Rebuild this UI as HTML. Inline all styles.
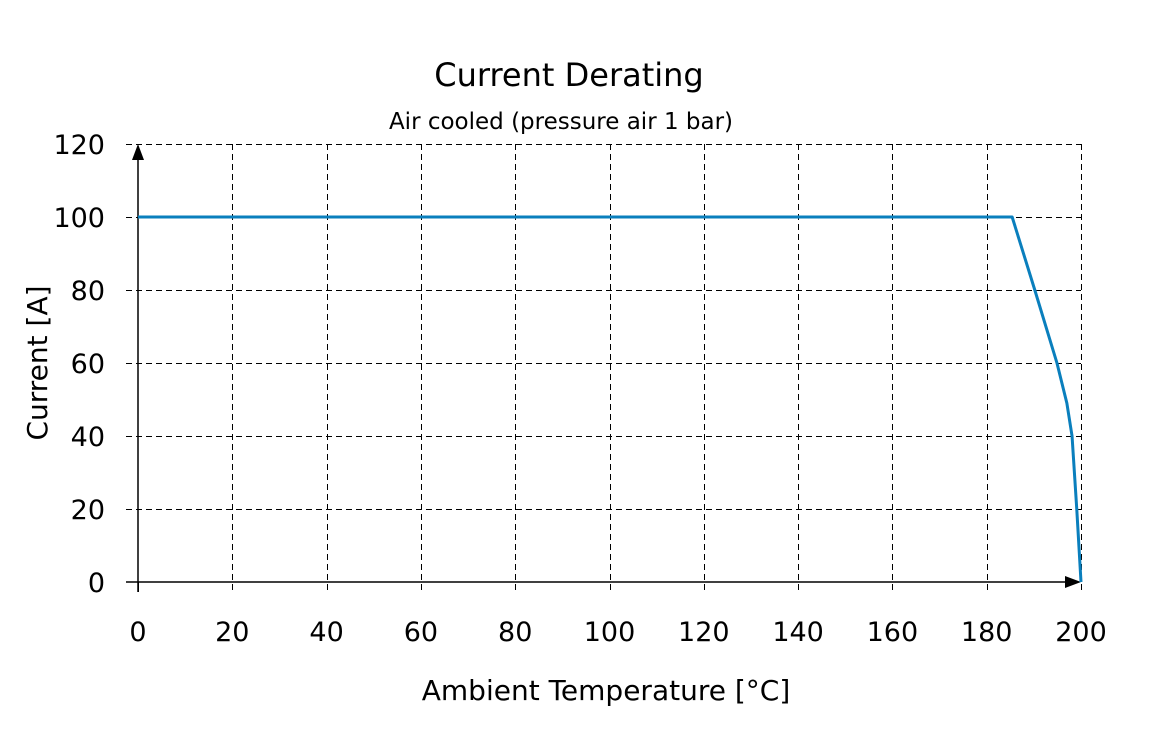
<!DOCTYPE html>
<html><head><meta charset="utf-8"><style>
html,body{margin:0;padding:0;background:#fff;}
svg{display:block;font-family:"DejaVu Sans","Liberation Sans",sans-serif;}
</style></head><body>
<svg id="chart" width="1162" height="750" viewBox="0 0 1162 750">
<text x="569" y="86" text-anchor="middle" font-size="32">Current Derating</text>
<text x="561" y="129" text-anchor="middle" font-size="23">Air cooled (pressure air 1 bar)</text>
<g id="grid"></g>
<g id="axes"></g>
<g id="series"></g>
<text x="606" y="700" text-anchor="middle" font-size="28">Ambient Temperature [°C]</text>
<text transform="translate(47,363) rotate(-90)" text-anchor="middle" font-size="28">Current [A]</text>
</svg>
<script>
const xTicks=[0,20,40,60,80,100,120,140,160,180,200];
const yTicks=[0,20,40,60,80,100,120];
const tempValues=[0,185.4,190.2,194.9,197.0,198.1,199.1,200];
const currentValues=[100,100,80,60,49,40,20,0];
const NS="http://www.w3.org/2000/svg";
const X0=138,X1=1081,Y0=582,Y1=144;
function sx(v){return X0+(v-0)/(200-0)*(X1-X0);}
function sy(v){return Y0-(v-0)/(120-0)*(Y0-Y1);}
function mk(t,a,p){const e=document.createElementNS(NS,t);for(const k in a)e.setAttribute(k,a[k]);p.appendChild(e);return e;}
const grid=document.getElementById('grid'),axes=document.getElementById('axes'),series=document.getElementById('series');
xTicks.forEach(v=>{
  const x=Math.round(sx(v))+0.5;
  if(v>0){const l=mk('line',{x1:x,y1:Y1,x2:x,y2:Y0+10,stroke:'#000','stroke-width':1,'stroke-dasharray':'6,4','shape-rendering':'crispEdges'},grid);
  
  }
  else{const l=mk('line',{x1:x,y1:Y0,x2:x,y2:Y0+10,stroke:'#000','stroke-width':1},grid);
  
  }
  const t=mk('text',{x:sx(v),y:641,'text-anchor':'middle','font-size':27},axes);t.textContent=v;
  
  
});
yTicks.forEach(v=>{
  const y=Math.round(sy(v))+0.5;
  if(v>0){const l=mk('line',{x1:126,y1:y,x2:X1,y2:y,stroke:'#000','stroke-width':1,'stroke-dasharray':'6,4','shape-rendering':'crispEdges'},grid);
  
  }
  const t=mk('text',{x:105,y:sy(v)+10,'text-anchor':'end','font-size':27},axes);t.textContent=v;
  
  
});
const xa=mk('line',{x1:126,y1:Y0,x2:X1-14,y2:Y0,stroke:'#000','stroke-width':1.5},axes);


const xh=mk('polygon',{points:`${X1},${Y0} ${X1-16},${Y0-6} ${X1-16},${Y0+6}`,fill:'#000'},axes);


const ya=mk('line',{x1:X0,y1:Y0+10,x2:X0,y2:Y1+14,stroke:'#000','stroke-width':1.5},axes);


const yh=mk('polygon',{points:`${X0},${Y1} ${X0-6},${Y1+16} ${X0+6},${Y1+16}`,fill:'#000'},axes);


const pts=tempValues.map((t,i)=>sx(t)+','+sy(currentValues[i])).join(' ');
const pl=mk('polyline',{points:pts,fill:'none',stroke:'#0a7fbd','stroke-width':3,'stroke-linejoin':'round'},series);


</script>
</body></html>
